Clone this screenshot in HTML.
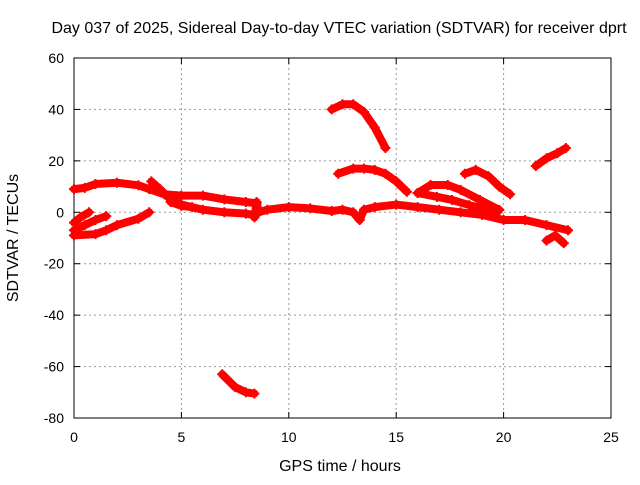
<!DOCTYPE html>
<html><head><meta charset="utf-8"><style>
body{margin:0;background:#fff;}
svg text{font-family:"Liberation Sans",sans-serif;font-size:14px;fill:#000;}
svg text.big{font-size:16px;}
</style></head><body>
<svg id="chart" width="640" height="480" xmlns="http://www.w3.org/2000/svg">
<g id="grid"></g>
<g id="axes"></g>
<g id="series"></g>
<text class="big" x="339" y="33" text-anchor="middle">Day 037 of 2025, Sidereal Day-to-day VTEC variation (SDTVAR) for receiver dprt</text>
<text class="big" x="340" y="471" text-anchor="middle">GPS time / hours</text>
<text class="big" transform="translate(18,238) rotate(-90)" text-anchor="middle">SDTVAR / TECUs</text>
</svg>
<script>
const xTicks=[0,5,10,15,20,25];
const yTicks=[60,40,20,0,-20,-40,-60,-80];
const trackTopBand=[[0,9],[0.5,9.5],[1,11],[2,11.5],[3,10.5],[3.5,9],[4.2,7],[5,6.5],[6,6.5],[7,5],[8,4],[8.5,3.5]];
const trackDrop=[[3.6,12],[4,9],[4.5,5],[5,3],[6,1],[7,0],[8,-0.5],[8.3,-1]];
const trackSide=[[4.5,4],[5,2.5],[5.5,2]];
const trackMain=[[8.4,-2],[8.5,4],[8.6,0],[9,1],[10,2],[11,1.5],[12,0.5],[12.5,1],[13,0],[13.3,-3],[13.5,1],[14,2],[15,3],[16,2],[17,1],[18,0],[19,-1],[20,-3],[21,-3],[22,-5],[23,-7]];
const trackLow1=[[0,-9],[1,-8.5],[1.5,-7],[2,-5],[3,-2.5],[3.5,0]];
const trackLow2=[[0,-7],[0.5,-5],[1,-3],[1.5,-1.5]];
const trackLow3=[[0,-4],[0.3,-2],[0.7,0]];
const trackArcTop=[[12,40],[12.5,42],[13,42],[13.5,39],[14,33],[14.5,25]];
const trackArc2=[[12.3,15],[13,17],[13.5,17],[14,16.5],[14.5,15],[15,12],[15.5,8]];
const trackArc3=[[16,7.5],[16.6,10.6],[17.4,10.6],[18,8.7],[18.9,4.8],[19.8,0.9]];
const trackArc3b=[[16,7.5],[16.9,6],[17.6,4.8],[18.4,2.8],[19.7,0]];
const trackArc4=[[18.2,15],[18.7,16.5],[19.3,14],[19.8,10],[20.3,7]];
const trackRight=[[21.5,18],[22,21],[22.5,23],[22.9,25]];
const trackWiggle=[[22,-11],[22.4,-9],[22.8,-12]];
const trackBottom=[[6.9,-63],[7.5,-68],[8,-70],[8.4,-70.5]];
const tracks=[trackTopBand,trackDrop,trackSide,trackMain,trackLow1,trackLow2,trackLow3,trackArcTop,trackArc2,trackArc3,trackArc3b,trackArc4,trackRight,trackWiggle,trackBottom];

const X0=74,X1=611,Y0=418,Y1=58;
const sx=v=>X0+(v-0)/(25-0)*(X1-X0);
const sy=v=>Y0-(v+80)/(140)*(Y0-Y1);
const NS="http://www.w3.org/2000/svg";
function mk(t,a,p){const e=document.createElementNS(NS,t);for(const k in a)e.setAttribute(k,a[k]);p.appendChild(e);return e;}
const grid=document.getElementById('grid'),axes=document.getElementById('axes'),ser=document.getElementById('series');
xTicks.forEach(t=>{const x=sx(t);
 if(t>0&&t<25){const g=mk('line',{x1:x,x2:x,y1:Y1,y2:Y0,stroke:'#999','stroke-dasharray':'2,3'},grid);}
 mk('line',{x1:x,x2:x,y1:Y0,y2:Y0-6,stroke:'#000'},axes);mk('line',{x1:x,x2:x,y1:Y1,y2:Y1+6,stroke:'#000'},axes);
 const l=mk('text',{x:x,y:Y0+24,'text-anchor':'middle'},axes);l.textContent=t;
 });
yTicks.forEach(t=>{const y=sy(t);
 if(t<60&&t>-80){const g=mk('line',{x1:X0,x2:X1,y1:y,y2:y,stroke:'#999','stroke-dasharray':'2,3'},grid);}
 mk('line',{x1:X0,x2:X0+6,y1:y,y2:y,stroke:'#000'},axes);mk('line',{x1:X1,x2:X1-6,y1:y,y2:y,stroke:'#000'},axes);
 const l=mk('text',{x:X0-10,y:y+5,'text-anchor':'end'},axes);l.textContent=t;
 });
const fr=mk('rect',{x:X0,y:Y1,width:X1-X0,height:Y0-Y1,fill:'none',stroke:'#000'},axes);

tracks.forEach(tr=>{
 const pl=mk('polyline',{points:tr.map(p=>sx(p[0])+','+sy(p[1])).join(' '),fill:'none',stroke:'#f00','stroke-width':8,'stroke-linejoin':'round','stroke-linecap':'round'},ser);
 
 tr.forEach(p=>{const x=sx(p[0]),y=sy(p[1]);
  const c=mk('path',{d:`M${x-5},${y}H${x+5}M${x},${y-5}V${y+5}`,stroke:'#f00','stroke-width':2},ser);
  });
});
</script>
</body></html>
